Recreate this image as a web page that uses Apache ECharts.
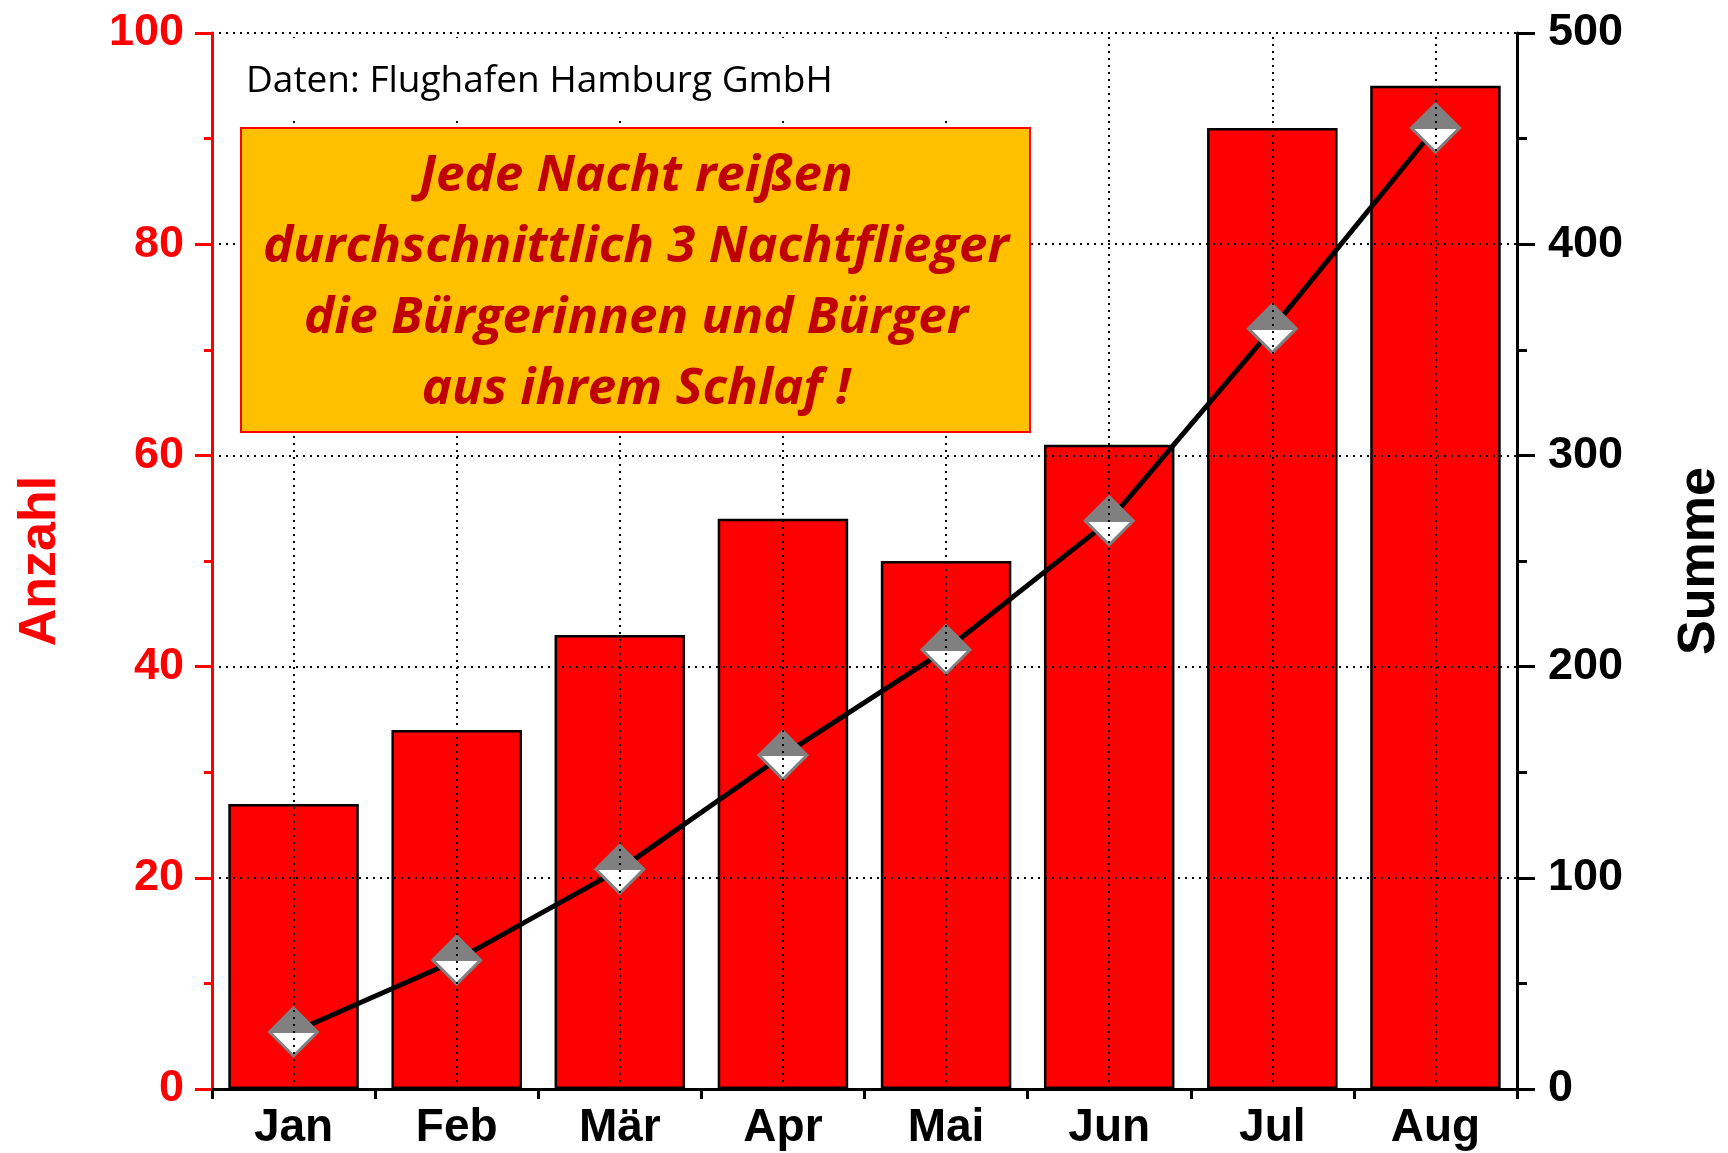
<!DOCTYPE html>
<html>
<head>
<meta charset="utf-8">
<script src="https://cdn.jsdelivr.net/npm/echarts@6/dist/echarts.min.js"></script>
<style>
  html, body { margin: 0; padding: 0; background: #fff; }
  #chart { width: 1728px; height: 1153px; }
</style>
</head>
<body>
<div id="chart"></div>
<script>
// Monate und Werte
const months = ['Jan', 'Feb', 'Mär', 'Apr', 'Mai', 'Jun', 'Jul', 'Aug'];
const anzahl = [27, 34, 43, 54, 50, 61, 91, 95];
const summe = [27, 61, 104, 158, 208, 269, 360, 455];
const sourceText = 'Daten: Flughafen Hamburg GmbH';
const boxLines = [
  'Jede Nacht reißen',
  'durchschnittlich 3 Nachtflieger',
  'die Bürgerinnen und Bürger',
  'aus ihrem Schlaf !'
];

const axisFont = '"Liberation Sans", Arial, sans-serif';
const dotted = [2, 5];

const chart = echarts.init(document.getElementById('chart'));

const option = {
  backgroundColor: '#fff',
  animation: false,
  grid: {
    left: 212,
    right: 211,
    top: 33,
    bottom: 64,
    containLabel: false,
    outerBoundsMode: 'none',
  },
  xAxis: [
    {
      type: 'category',
      data: months,
      z: 3,
      axisLine: { lineStyle: { color: '#000', width: 3 } },
      axisTick: { show: true, length: 10, lineStyle: { color: '#000', width: 3 } },
      axisLabel: {
        color: '#000',
        fontSize: 46,
        fontWeight: 'bold',
        fontFamily: axisFont,
        margin: 16,
      },
      splitLine: { show: false },
    },
    {
      type: 'category',
      data: months,
      position: 'top',
      z: 3,
      axisLine: { lineStyle: { color: '#000', width: 3 } },
      axisTick: { show: false },
      axisLabel: { show: false },
    },
  ],
  yAxis: [
    {
      type: 'value',
      min: 0,
      max: 100,
      interval: 20,
      z: 3,
      name: 'Anzahl',
      nameLocation: 'middle',
      nameGap: 145,
      nameTextStyle: {
        color: '#ff0000',
        fontSize: 52,
        fontWeight: 'bold',
        fontFamily: axisFont,
      },
      axisLine: { show: true, lineStyle: { color: '#ff0000', width: 3 } },
      axisTick: { show: true, length: 17, lineStyle: { color: '#ff0000', width: 3 } },
      minorTick: { show: true, splitNumber: 2, length: 8, lineStyle: { color: '#ff0000', width: 3 } },
      axisLabel: {
        color: '#ff0000',
        fontSize: 45,
        fontWeight: 'bold',
        fontFamily: axisFont,
        margin: 28,
      },
      splitLine: { show: true, lineStyle: { color: '#000', width: 2, type: dotted } },
    },
    {
      type: 'value',
      min: 0,
      max: 500,
      interval: 100,
      position: 'right',
      z: 3,
      name: 'Summe',
      nameLocation: 'middle',
      nameGap: 157,
      nameRotate: 90,
      nameTextStyle: {
        color: '#000',
        fontSize: 52,
        fontWeight: 'bold',
        fontFamily: axisFont,
      },
      axisLine: { show: true, lineStyle: { color: '#000', width: 3 } },
      axisTick: { show: true, length: 18, lineStyle: { color: '#000', width: 3 } },
      minorTick: { show: true, splitNumber: 2, length: 10, lineStyle: { color: '#000', width: 3 } },
      axisLabel: {
        color: '#000',
        fontSize: 45,
        fontWeight: 'bold',
        fontFamily: axisFont,
        margin: 31,
      },
      splitLine: { show: false },
    },
  ],
  series: [
    {
      name: 'Anzahl',
      type: 'bar',
      data: anzahl,
      barCategoryGap: '20%',
      itemStyle: { color: '#ff0000', borderColor: '#000', borderWidth: 2.5 },
      markLine: {
        silent: true,
        symbol: 'none',
        label: { show: false },
        lineStyle: { color: '#000', width: 2, type: dotted },
        data: months.map((m) => ({ xAxis: m })),
      },
    },
    {
      name: 'Summe',
      type: 'line',
      yAxisIndex: 1,
      data: summe,
      z: 4,
      symbol: 'diamond',
      symbolSize: 48,
      lineStyle: { color: '#000', width: 5 },
      itemStyle: {
        color: new echarts.graphic.LinearGradient(0, 0, 0, 1, [
          { offset: 0, color: '#808080' },
          { offset: 0.52, color: '#808080' },
          { offset: 0.52, color: '#ffffff' },
          { offset: 1, color: '#ffffff' },
        ]),
        borderColor: '#808080',
        borderWidth: 3,
      },
    },
  ],
  graphic: [
    {
      type: 'rect',
      z: 10,
      shape: { x: 230, y: 38, width: 800, height: 82 },
      style: { fill: '#fff' },
      silent: true,
    },
    {
      type: 'text',
      z: 11,
      style: {
        text: sourceText,
        x: 246,
        y: 81,
        verticalAlign: 'middle',
        fill: '#000',
        fontSize: 37,
        fontFamily: '"Open Sans", sans-serif',
      },
      silent: true,
    },
    {
      type: 'rect',
      z: 12,
      shape: { x: 241, y: 128, width: 789, height: 304 },
      style: { fill: '#ffc000', stroke: '#ff0000', lineWidth: 2 },
      silent: true,
    },
    {
      type: 'text',
      z: 13,
      style: {
        text: boxLines.join('\n'),
        x: 636,
        y: 283,
        align: 'center',
        verticalAlign: 'middle',
        lineHeight: 71,
        fill: '#c00000',
        fontSize: 51,
        fontWeight: 'bold',
        fontStyle: 'italic',
        fontFamily: '"Open Sans", sans-serif',
      },
      silent: true,
    },
  ],
};

chart.setOption(option);
</script>
</body>
</html>
